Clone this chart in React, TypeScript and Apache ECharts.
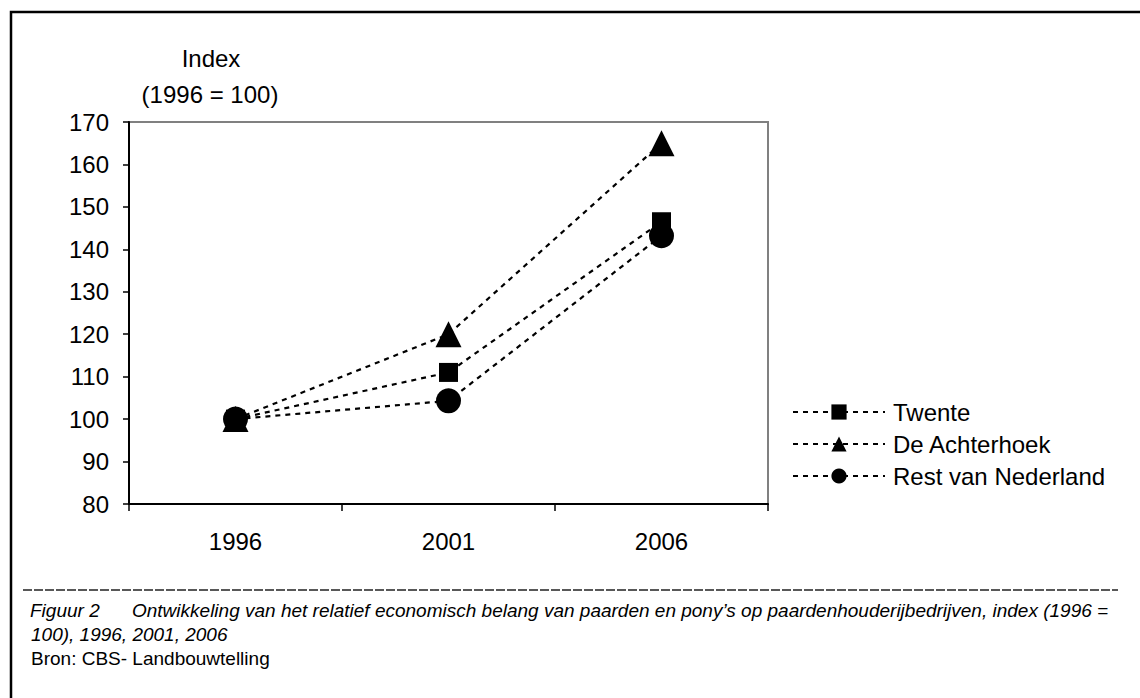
import React, { useEffect, useRef } from "react";
import * as echarts from "echarts";

const years = ["1996", "2001", "2006"];
const twente = [100, 111, 146.5];
const achterhoek = [100, 120, 165];
const restNL = [100, 104.3, 143.2];
const seriesNames = ["Twente", "De Achterhoek", "Rest van Nederland"];
const yTitle = ["Index", "(1996 = 100)"];
const captionLabel = "Figuur 2";
const captionLine1 =
  "Ontwikkeling van het relatief economisch belang van paarden en pony\u2019s op paardenhouderijbedrijven, index (1996 =";
const captionLine2 = "100), 1996, 2001, 2006";
const sourceLine = "Bron: CBS- Landbouwtelling";

const FONT = "'Liberation Sans', Arial, sans-serif";

export default function App() {
  const ref = useRef<HTMLDivElement>(null);
  useEffect(() => {
    if (!ref.current) return;
    const chart = echarts.init(ref.current, undefined, { renderer: "svg" });
    const lineStyle = { color: "#000", width: 2.2, type: [5, 5] as number[] };
    const mk = (name: string, data: number[], symbol: string, size: number) => ({
      name,
      type: "line",
      data,
      symbol,
      symbolSize: size,
      showAllSymbol: true,
      lineStyle,
      itemStyle: { color: "#000" },
      emphasis: { disabled: true },
    });
    chart.setOption({
      animation: false,
      backgroundColor: "#fff",
      textStyle: { fontFamily: FONT },
      grid: {
        left: 129,
        top: 122,
        right: 372,
        bottom: 194,
        show: true,
        borderColor: "#808080",
        borderWidth: 2,
        backgroundColor: "#fff",
      },
      xAxis: {
        type: "category",
        data: years,
        boundaryGap: true,
        axisLine: { lineStyle: { color: "#000", width: 2 } },
        axisTick: { show: true, length: 7, lineStyle: { color: "#000", width: 1.5 } },
        axisLabel: { color: "#000", fontSize: 24, fontFamily: FONT, margin: 25 },
        splitLine: { show: false },
      },
      yAxis: {
        type: "value",
        min: 80,
        max: 170,
        interval: 10,
        axisLine: { show: true, lineStyle: { color: "#000", width: 2 } },
        axisTick: { show: true, length: 6, lineStyle: { color: "#000", width: 1.5 } },
        axisLabel: { color: "#000", fontSize: 24, fontFamily: FONT, margin: 20 },
        splitLine: { show: false },
      },
      legend: {
        orient: "vertical",
        left: 787,
        top: 395,
        itemWidth: 92,
        itemHeight: 19,
        itemGap: 8,
        textStyle: {
          color: "#000",
          fontSize: 24,
          fontFamily: FONT,
          lineHeight: 24,
          padding: [0, 0, 0, 3],
        },
        data: seriesNames,
        selectedMode: false,
      },
      series: [
        mk(seriesNames[0], twente, "rect", 19),
        mk(seriesNames[1], achterhoek, "triangle", 26),
        mk(seriesNames[2], restNL, "circle", 25),
      ],
      graphic: [
        {
          type: "rect",
          shape: { x: 11, y: 12, width: 1300, height: 900 },
          style: { fill: "none", stroke: "#000", lineWidth: 2.5 },
          silent: true,
        },
        {
          type: "text",
          x: 211,
          y: 58,
          style: {
            text: yTitle[0],
            font: `24px ${FONT}`,
            fill: "#000",
            textAlign: "center",
            textVerticalAlign: "middle",
          },
        },
        {
          type: "text",
          x: 210,
          y: 94,
          style: {
            text: yTitle[1],
            font: `24px ${FONT}`,
            fill: "#000",
            textAlign: "center",
            textVerticalAlign: "middle",
          },
        },
        {
          type: "line",
          shape: { x1: 23, y1: 590, x2: 1118, y2: 590 },
          style: { stroke: "#222", lineWidth: 1.5, lineDash: [9, 2] },
        },
        {
          type: "text",
          x: 30,
          y: 610,
          style: {
            text: captionLabel,
            font: `italic 19px ${FONT}`,
            fill: "#000",
            textVerticalAlign: "middle",
          },
        },
        {
          type: "text",
          x: 132,
          y: 610,
          style: {
            text: captionLine1,
            font: `italic 19px ${FONT}`,
            fill: "#000",
            textVerticalAlign: "middle",
          },
        },
        {
          type: "text",
          x: 31,
          y: 634,
          style: {
            text: captionLine2,
            font: `italic 19px ${FONT}`,
            fill: "#000",
            textVerticalAlign: "middle",
          },
        },
        {
          type: "text",
          x: 31,
          y: 658,
          style: {
            text: sourceLine,
            font: `19px ${FONT}`,
            fill: "#000",
            textVerticalAlign: "middle",
          },
        },
      ],
    });
    return () => chart.dispose();
  }, []);
  return (
    <div
      ref={ref}
      style={{ position: "absolute", left: 0, top: 0, width: 1140, height: 698 }}
    />
  );
}
